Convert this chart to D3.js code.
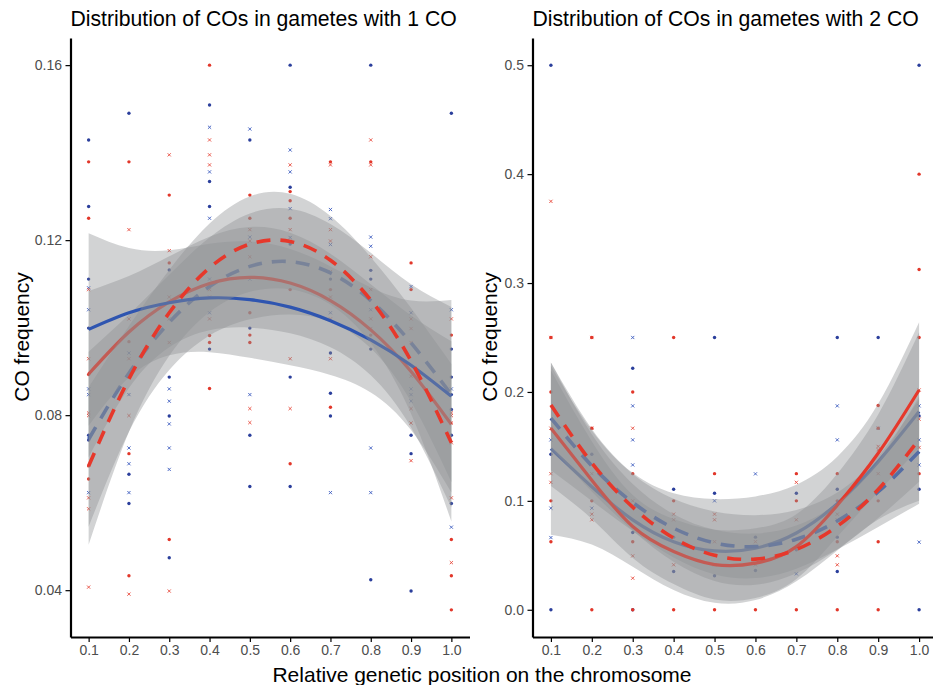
<!DOCTYPE html>
<html><head><meta charset="utf-8">
<script src="https://cdn.jsdelivr.net/npm/d3@7"></script>
<style>
body{margin:0;background:#fff}
text{font-family:"Liberation Sans",Arial,Helvetica,sans-serif}
</style>
</head><body>
<svg id="c" width="933" height="685"></svg>
<script>
// ---------- data ----------
const xPositions = [0.1,0.2,0.3,0.4,0.5,0.6,0.7,0.8,0.9,1.0];
const xTickLabels = ["0.1","0.2","0.3","0.4","0.5","0.6","0.7","0.8","0.9","1.0"];
const leftYTicks = [0.04,0.08,0.12,0.16];
const rightYTicks = [0,0.1,0.2,0.3,0.4,0.5];
const titles = ["Distribution of COs in gametes with 1 CO","Distribution of COs in gametes with 2 CO"];
const yTitle = "CO frequency";
const xTitle = "Relative genetic position on the chromosome";

// Panel 1 (1 CO) observed points: [x, [values]]
const p1BlueDot = [[0.1,[0.1429,0.1277,0.1111,0.0999,0.0754,0.0743]],[0.2,[0.149,0.0665,0.0598]],[0.3,[0.1132,0.0887,0.0798,0.0474]],[0.4,[0.1509,0.1334,0.1277,0.0951]],[0.5,[0.1429,0.0999,0.0754,0.0637]],[0.6,[0.16,0.1321,0.1191,0.0887,0.0637]],[0.7,[0.1111,0.0942,0.085,0.0798]],[0.8,[0.16,0.1131,0.1111,0.0951,0.0424]],[0.9,[0.0754,0.0712,0.0398]],[1.0,[0.149,0.0951,0.0887,0.0847,0.0813,0.0754,0.0598]]];
const p1BlueX = [[0.1,[0.1091,0.1041,0.086,0.0847,0.0623]],[0.2,[0.0942,0.0847,0.0725,0.0689,0.0623]],[0.3,[0.086,0.0832,0.078,0.0725,0.0676]],[0.4,[0.1458,0.1356,0.125,0.1111,0.1034]],[0.5,[0.1454,0.1207,0.1111,0.0847]],[0.6,[0.1406,0.1356,0.1272,0.1206]],[0.7,[0.127,0.1249,0.119,0.1034,0.0623]],[0.8,[0.1207,0.1186,0.1041,0.0725,0.0623]],[0.9,[0.1094,0.1034,0.086,0.0847,0.0832]],[1.0,[0.1041,0.086,0.0544]]];
const p1RedDot = [[0.1,[0.1379,0.125,0.0893,0.0684,0.0654]],[0.2,[0.1379,0.0968,0.0712,0.0433]],[0.3,[0.1303,0.1148,0.0516]],[0.4,[0.16,0.0982,0.0966,0.0861]],[0.5,[0.1303,0.125,0.1034,0.0983,0.0966]],[0.6,[0.1311,0.129,0.125,0.1087,0.0689]],[0.7,[0.1379,0.1087,0.0818]],[0.8,[0.1379,0.0983]],[0.9,[0.1148,0.1087]],[1.0,[0.0983,0.0516,0.0433,0.0355]]];
const p1RedX = [[0.1,[0.1087,0.0929,0.0805,0.0799,0.0611,0.0586,0.0407]],[0.2,[0.1224,0.102,0.0929,0.0799,0.0391]],[0.3,[0.1395,0.1176,0.107,0.102,0.0966,0.0398]],[0.4,[0.1429,0.1395,0.1372,0.1087,0.107,0.102]],[0.5,[0.1224,0.1198,0.1162,0.0815,0.0783]],[0.6,[0.1372,0.1224,0.1198,0.0929,0.0815]],[0.7,[0.1372,0.1224,0.1198,0.1128,0.107,0.102,0.0929]],[0.8,[0.1429,0.1372,0.1162,0.1087,0.102,0.0998]],[0.9,[0.102,0.0998,0.0966,0.0889,0.0815,0.0782,0.0696]],[1.0,[0.102,0.0805,0.0799,0.0782,0.0737,0.0611,0.0463]]];

// Panel 2 (2 CO) observed points
const p2BlueDot = [[0.1,[0.5,0.1428,0]],[0.2,[0.1428]],[0.3,[0.2217,0.071,0]],[0.4,[0.1107,0.0667,0.0352]],[0.5,[0.25,0.107,0.0312]],[0.6,[0.0667,0.036]],[0.7,[0.107,0.055]],[0.8,[0.25,0.1107,0.0667,0.0352]],[0.9,[0.25]],[1.0,[0.5,0.178,0.1107,0]]];
const p2BlueX = [[0.1,[0.156,0.0933,0.0663]],[0.2,[0.0933]],[0.3,[0.25,0.1872,0.156,0.133]],[0.5,[0.1]],[0.6,[0.1248]],[0.7,[0.033]],[0.8,[0.1872,0.156]],[0.9,[0.1667]],[1.0,[0.1872,0.156,0.133,0.0621]]];
const p2RedDot = [[0.1,[0.25,0.2,0.1,0.0625]],[0.2,[0.25,0.1667,0.1,0]],[0.3,[0.2,0.125,0.0625,0]],[0.4,[0.25,0.1,0]],[0.5,[0.125,0]],[0.6,[0.058,0]],[0.7,[0.125,0.1,0]],[0.8,[0.125,0.1,0.0625,0]],[0.9,[0.1875,0.1667,0.1,0.0625,0]],[1.0,[0.4,0.3125,0.25,0.125]]];
const p2RedX = [[0.1,[0.375,0.25,0.1667,0.125,0.117]],[0.2,[0.25,0.1667,0.125,0.0878,0.0826]],[0.3,[0.1667,0.1,0.0495,0.029]],[0.4,[0.0878,0.0826,0.0413]],[0.5,[0.0878,0.0826,0.0625,0.0413]],[0.6,[0.0625,0.0413]],[0.7,[0.117,0.0826]],[0.8,[0.0878,0.0826,0.0495,0.0413]],[0.9,[0.15,0.147,0.125]],[1.0,[0.2018,0.175,0.149]]];

// Fitted curves (values at xPositions) and band half-widths
const f1BlueSolid = [0.0996,0.1034,0.1057,0.1068,0.1064,0.1047,0.1016,0.0972,0.0914,0.0843];
const f1BlueDash  = [0.0745,0.0896,0.1012,0.1094,0.1140,0.1151,0.1125,0.1062,0.0965,0.0847];
const f1RedSolid  = [0.0894,0.0990,0.1059,0.1101,0.1115,0.1102,0.1062,0.0995,0.0900,0.0779];
const f1RedDash   = [0.0684,0.0883,0.1034,0.1137,0.1191,0.1197,0.1154,0.1063,0.0924,0.0737];
const h1BlueSolid = [0.022,0.0148,0.012,0.0124,0.0133,0.0133,0.0124,0.012,0.0148,0.022];
const h1BlueDash  = [0.020,0.0134,0.0109,0.0112,0.0121,0.0121,0.0112,0.0109,0.0134,0.020];
const h1RedSolid  = [0.019,0.0128,0.0104,0.0107,0.0115,0.0115,0.0107,0.0104,0.0128,0.019];
const h1RedDash   = [0.018,0.0121,0.0098,0.0101,0.0109,0.0109,0.0101,0.0098,0.0121,0.018];

const f2BlueSolid = [0.148,0.113,0.0826,0.0625,0.0540,0.0565,0.0705,0.0975,0.136,0.182];
const f2BlueDash  = [0.176,0.1322,0.0985,0.0749,0.0614,0.058,0.0647,0.0815,0.1084,0.1454];
const f2RedSolid  = [0.1667,0.119,0.0765,0.0535,0.0415,0.0428,0.058,0.096,0.1437,0.2018];
const f2RedDash   = [0.188,0.1349,0.0942,0.0659,0.05,0.0465,0.0554,0.0767,0.1104,0.1565];
const h2BlueSolid = [0.079,0.0531,0.0431,0.0444,0.0476,0.0476,0.0444,0.0431,0.0531,0.082];
const h2BlueDash  = [0.048,0.0323,0.0262,0.027,0.0289,0.0289,0.027,0.0262,0.0323,0.048];
const h2RedSolid  = [0.053,0.0356,0.0289,0.0298,0.032,0.032,0.0298,0.0289,0.0356,0.053];
const h2RedDash   = [0.039,0.0262,0.0213,0.0219,0.0235,0.0235,0.0219,0.0213,0.0262,0.039];

// ---------- styling ----------
const BLUE = "#2f55b0", RED = "#e6382b";
const BLUE_DOT = "#2b3f9c", BLUE_X = "#3d5cc0", RED_DOT = "#e2372a", RED_X = "#e84a3c";
const BAND_FILL = "#8e9094", BAND_OP = 0.4;

const svg = d3.select("#c");

function panel(cfg){
  const g = svg.append("g");
  const x = d3.scaleLinear().domain([0.055,1.045]).range(cfg.xr);
  const y = d3.scaleLinear().domain(cfg.yd).range([637,38]);
  const clipId = "clip"+cfg.id;
  svg.append("clipPath").attr("id",clipId).append("rect")
     .attr("x",cfg.xr[0]).attr("y",38).attr("width",cfg.xr[1]-cfg.xr[0]).attr("height",599);
  const plot = g.append("g").attr("clip-path",`url(#${clipId})`);

  const flat = arr => arr.flatMap(([xv,vals]) => vals.map(v => [xv,v]));
  const drawDots = (arr,col) => plot.append("g").selectAll("circle").data(flat(arr)).join("circle")
     .attr("cx",d=>x(d[0])).attr("cy",d=>y(d[1])).attr("r",1.7).attr("fill",col);
  const drawX = (arr,col) => plot.append("g").selectAll("path").data(flat(arr)).join("path")
     .attr("transform",d=>`translate(${x(d[0])},${y(d[1])})`)
     .attr("d","M-1.6,-1.6L1.6,1.6M-1.6,1.6L1.6,-1.6").attr("stroke",col).attr("stroke-width",0.9).attr("fill","none");
  drawX(cfg.bx,BLUE_X); drawDots(cfg.bd,BLUE_DOT); drawX(cfg.rx,RED_X); drawDots(cfg.rd,RED_DOT);

  const area = d3.area().x(d=>x(d.x)).y0(d=>y(d.lo)).y1(d=>y(d.hi)).curve(d3.curveNatural);
  const line = d3.line().x(d=>x(d.x)).y(d=>y(d.f)).curve(d3.curveNatural);
  cfg.fits.forEach(ft=>{
    const pts = xPositions.map((xv,i)=>({x:xv,f:ft.f[i],lo:ft.f[i]-ft.h[i],hi:ft.f[i]+ft.h[i]}));
    plot.append("path").datum(pts).attr("d",area).attr("fill",BAND_FILL).attr("fill-opacity",BAND_OP);
    plot.append("path").datum(pts).attr("d",line).attr("fill","none").attr("stroke",ft.c)
       .attr("stroke-width",ft.dash?3.6:3.2).attr("stroke-dasharray",ft.dash?"14,10":null);
  });

  const ax = g.append("g").attr("transform","translate(0,637)")
     .call(d3.axisBottom(x).tickValues(xPositions).tickFormat((d,i)=>xTickLabels[i]).tickSize(5).tickSizeOuter(0).tickPadding(3));
  const ay = g.append("g").attr("transform",`translate(${cfg.xr[0]},0)`)
     .call(d3.axisLeft(y).tickValues(cfg.yt).tickFormat(d3.format(cfg.fmt)).tickSize(5).tickSizeOuter(0).tickPadding(3.5));
  [ax,ay].forEach(a=>{
    a.select(".domain").attr("stroke","#000").attr("stroke-width",2.2);
    a.selectAll(".tick line").attr("stroke","#000").attr("stroke-width",1.2);
    a.selectAll(".tick text").attr("fill","#4d4d4d").attr("font-size",14)
      .attr("font-family","'Liberation Sans',Arial,sans-serif");
  });

  g.append("text").attr("x",cfg.xr[0]).attr("y",26).attr("font-size",21.2).attr("fill","#000").text(cfg.title);
  g.append("text").attr("transform",`translate(${cfg.ytx},337) rotate(-90)`).attr("text-anchor","middle")
     .attr("dy","0.35em").attr("font-size",21).attr("fill","#000").text(yTitle);
}

panel({id:1,xr:[70.5,469.5],yd:[0.0293,0.1662],yt:leftYTicks,fmt:".2f",title:titles[0],ytx:22,
  bd:p1BlueDot,bx:p1BlueX,rd:p1RedDot,rx:p1RedX,
  fits:[{f:f1BlueDash,h:h1BlueDash,c:BLUE,dash:true},{f:f1RedSolid,h:h1RedSolid,c:RED,dash:false},
        {f:f1BlueSolid,h:h1BlueSolid,c:BLUE,dash:false},{f:f1RedDash,h:h1RedDash,c:RED,dash:true}]});
panel({id:2,xr:[532.5,937.5],yd:[-0.025,0.525],yt:rightYTicks,fmt:".1f",title:titles[1],ytx:490,
  bd:p2BlueDot,bx:p2BlueX,rd:p2RedDot,rx:p2RedX,
  fits:[{f:f2BlueSolid,h:h2BlueSolid,c:BLUE,dash:false},{f:f2BlueDash,h:h2BlueDash,c:BLUE,dash:true},
        {f:f2RedSolid,h:h2RedSolid,c:RED,dash:false},{f:f2RedDash,h:h2RedDash,c:RED,dash:true}]});

svg.append("text").attr("x",482).attr("y",682).attr("text-anchor","middle").attr("font-size",21).attr("fill","#000").text(xTitle);
</script>
</body></html>
